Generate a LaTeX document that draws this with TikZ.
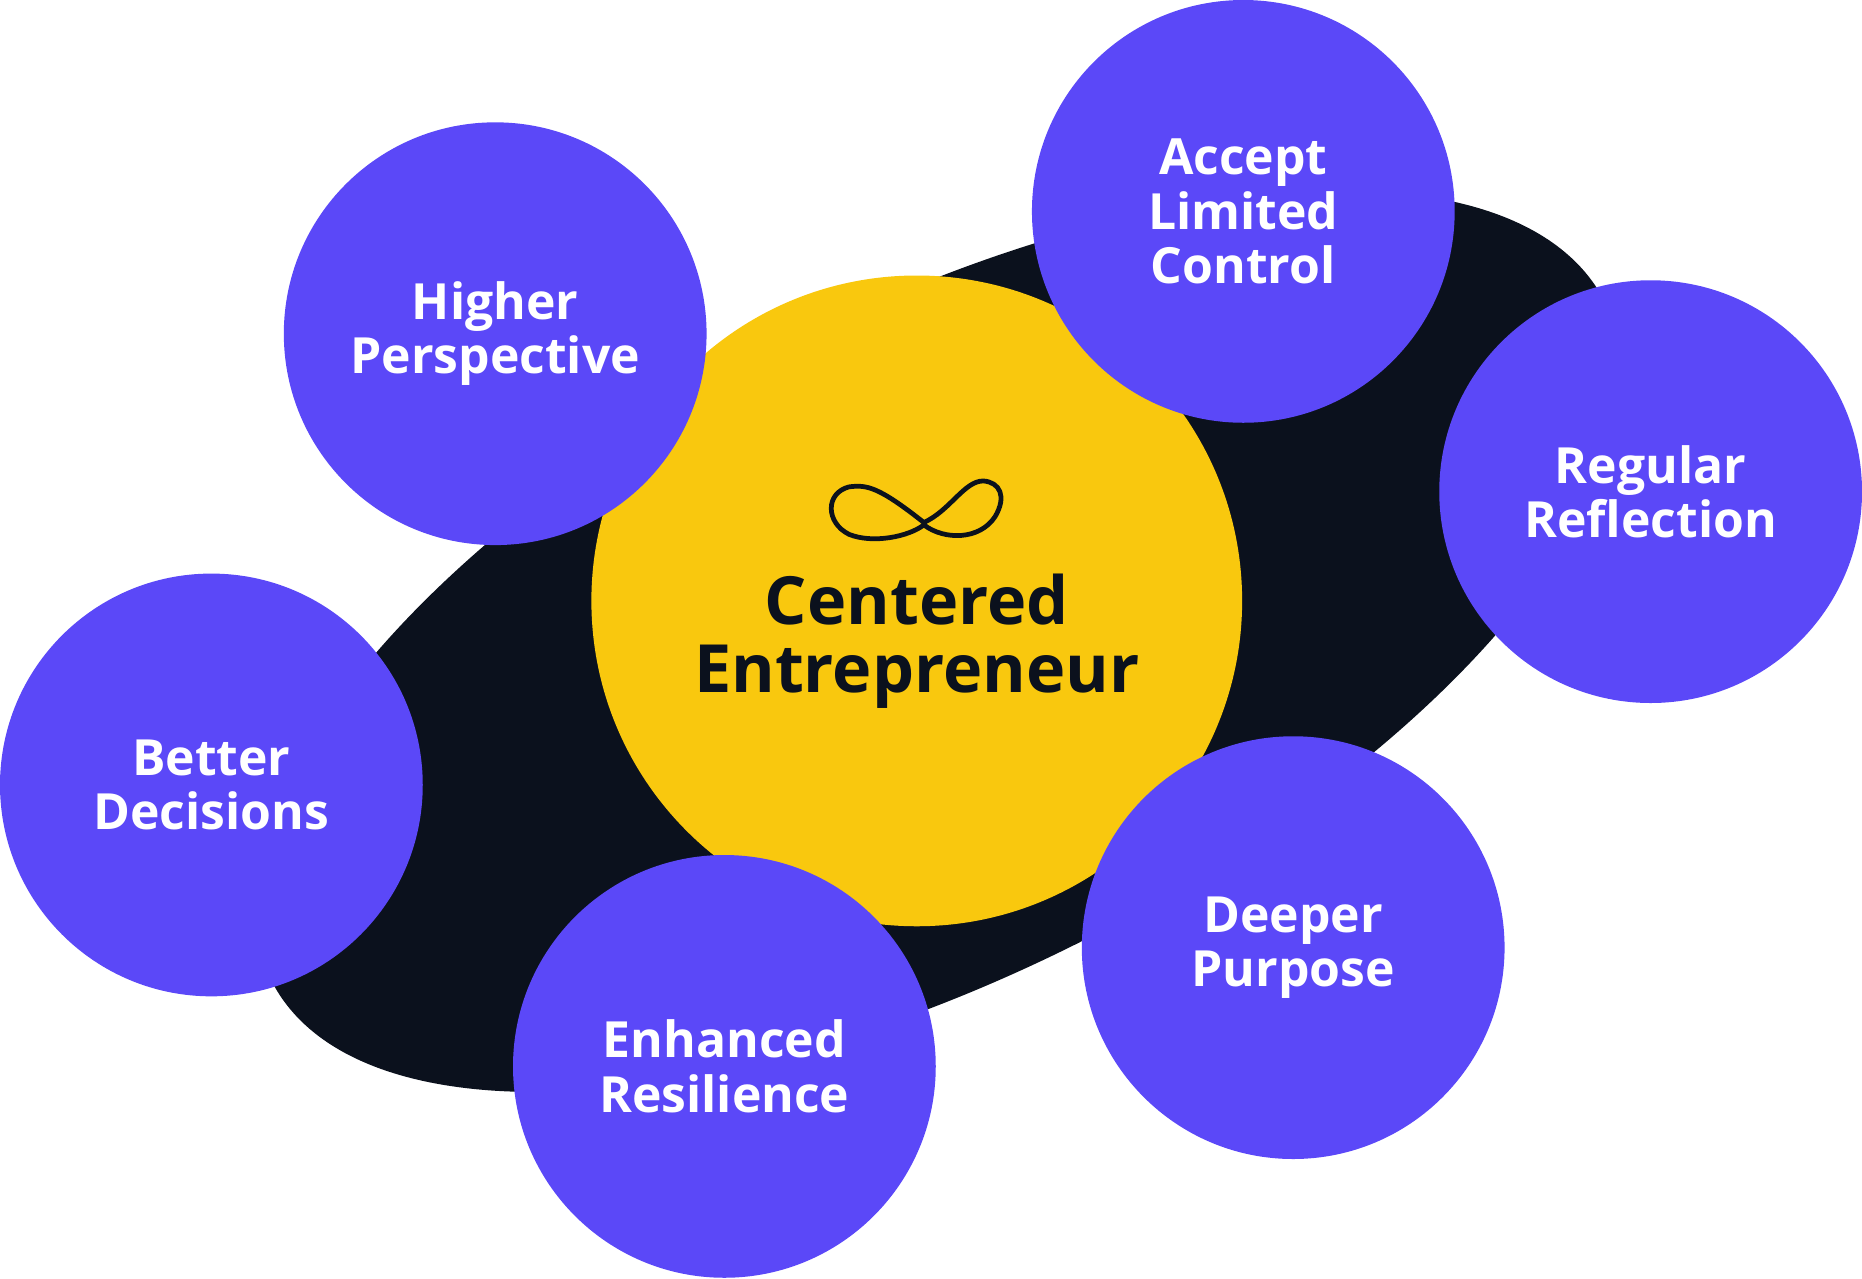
\documentclass[tikz,border=0pt]{standalone}
\usepackage{fontspec}
\setmainfont{Open Sans}
\definecolor{purp}{HTML}{5B48F8}
\definecolor{yel}{HTML}{F9C80E}
\definecolor{dark}{HTML}{0B111D}
\begin{document}
\begin{tikzpicture}[x=0.5pt,y=-0.5pt,
  outer/.style={circle,fill=purp,minimum size=178pt,inner sep=0pt,text=white,font=\fontsize{21}{23}\selectfont\bfseries,align=center},
  hub/.style={circle,fill=yel,minimum size=274pt,inner sep=0pt}]
\useasboundingbox (0,0) rectangle (1568,1077);
\fill[dark,rotate around={27:(790,540)}] (790,540) ellipse [x radius=630, y radius=280];
\node[hub] (c) at (772,506) {};
\node[text=dark,font=\fontsize{28}{29}\selectfont\bfseries,align=center] (ct) at (772,540) {Centered\\Entrepreneur};
\draw[dark,line width=2pt] (778,440) .. controls (740,410) and (730,408) .. (715,410) .. controls (695,415) and (695,440) .. (715,450) .. controls (735,458) and (765,452) .. (778,442) .. controls (795,455) and (825,455) .. (838,435) .. controls (848,418) and (842,406) .. (828,405) .. controls (812,405) and (800,430) .. (778,440);
\node[outer] (hp) at (417,281) {Higher\\Perspective};
\node[outer] (ac) at (1047,178) {Accept\\Limited\\Control};
\node[outer] (rr) at (1390,414) {Regular\\Reflection};
\node[outer] (bd) at (178,661) {Better\\Decisions};
\node[outer] (er) at (610,898) {Enhanced\\Resilience};
\node[outer] (dp) at (1089,798) {Deeper\\Purpose};
\end{tikzpicture}
\end{document}
